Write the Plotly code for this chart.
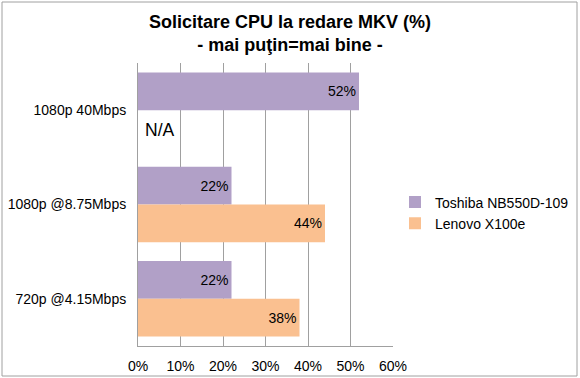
import plotly.graph_objects as go

categories = ["1080p 40Mbps", "1080p @8.75Mbps", "720p @4.15Mbps"]
toshiba = [52, 22, 22]
lenovo = [None, 44, 38]
series_names = ["Toshiba NB550D-109", "Lenovo X100e"]
tick_vals = [0, 10, 20, 30, 40, 50, 60]
tick_text = ["0%", "10%", "20%", "30%", "40%", "50%", "60%"]

W, H = 580, 378
L, R, T, B = 138, 187, 63, 32
pw, ph = W - L - R, H - T - B

font = "Arial, Liberation Sans, sans-serif"

fig = go.Figure()
fig.add_trace(go.Bar(
    y=categories, x=toshiba, name=series_names[0], orientation="h",
    marker=dict(color="#B1A0C7", line=dict(width=0)),
    text=[f"{v}%" for v in toshiba], textposition="inside",
    insidetextanchor="end", textfont=dict(size=14, color="black", family=font),
))
fig.add_trace(go.Bar(
    y=categories, x=lenovo, name=series_names[1], orientation="h",
    marker=dict(color="#FAC090", line=dict(width=0)),
    text=[("" if v is None else f"{v}%") for v in lenovo], textposition="inside",
    insidetextanchor="end", textfont=dict(size=14, color="black", family=font),
))

fig.add_annotation(x=0, y=categories[0], text="N/A", showarrow=False,
                   xanchor="left", yanchor="middle", yshift=-20, xshift=5,
                   font=dict(size=17.5, color="black", family=font))

fig.update_layout(
    width=W, height=H,
    margin=dict(l=L, r=R, t=T, b=B, pad=0, autoexpand=False),
    paper_bgcolor="white", plot_bgcolor="white",
    barmode="group", bargap=0.2, bargroupgap=0,
    title=dict(text="<b>Solicitare CPU la redare MKV (%)<br>- mai puţin=mai bine -</b>",
               x=0.5, xanchor="center", y=1 - 28 / H, yanchor="middle",
               font=dict(size=18, color="black", family=font), automargin=False),
    font=dict(family=font, size=14, color="black"),
    showlegend=True,
    legend=dict(x=(395 - L) / pw, y=(H - B - 213) / ph, yanchor="middle", xanchor="left",
                font=dict(size=14, color="black", family=font),
                bgcolor="rgba(0,0,0,0)", tracegroupgap=0, traceorder="normal"),
    xaxis=dict(range=[0, 60], tickvals=tick_vals, ticktext=tick_text,
               showgrid=True, gridcolor="#A0A0A0", gridwidth=1,
               showline=True, linecolor="#A0A0A0", linewidth=1,
               zeroline=False, ticks="", fixedrange=True, automargin=False,
               tickfont=dict(size=14, color="black", family=font), ticklabelstandoff=7),
    yaxis=dict(autorange="reversed", showline=True, linecolor="#A0A0A0", linewidth=1,
               ticks="", showgrid=False, automargin=False, fixedrange=True,
               tickfont=dict(size=14, color="black", family=font), ticklabelstandoff=8),
    shapes=[dict(type="rect", xref="paper", yref="paper",
                 x0=(2 - L) / pw, x1=(577 - L) / pw,
                 y0=(H - B - 376) / ph, y1=(H - B - 2) / ph,
                 line=dict(color="#A0A0A0", width=1), fillcolor="rgba(0,0,0,0)", layer="below")],
)

fig.write_html("out.html", config={"displayModeBar": False},
               post_script="document.body.style.margin='0';document.body.style.padding='0';")
